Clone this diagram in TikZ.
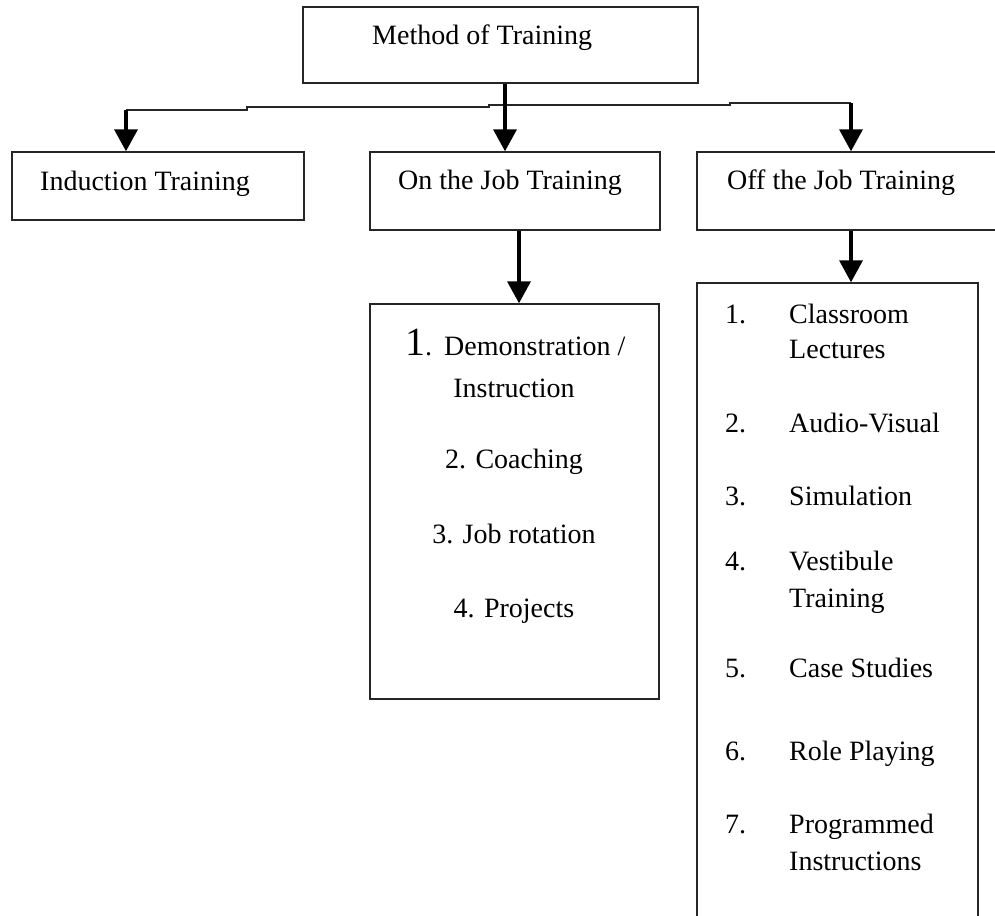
\documentclass[tikz,border=0pt]{standalone}
\usepackage{fontspec}
\setmainfont{Liberation Serif}
\usetikzlibrary{arrows.meta}
\begin{document}
\begin{tikzpicture}[x=1pt,y=-1pt,
  box/.style={draw=black!85, line width=1.4pt, inner sep=0pt, rectangle},
  lbl/.style={anchor=base west, inner sep=0pt, font=\fontsize{28}{30}\selectfont},
  clbl/.style={anchor=base, inner sep=0pt, font=\fontsize{28}{30}\selectfont},
  arr/.style={line width=3.6pt, -{Triangle[width=23pt,length=22pt]}},
  conn/.style={line width=1.5pt, black!85}]
\useasboundingbox (0,0) rectangle (995,915);

% boxes
\node[box, minimum width=395pt, minimum height=76pt] (method) at (500.5,45) {};
\node[box, minimum width=292pt, minimum height=68pt] (ind) at (158,186) {};
\node[box, minimum width=290pt, minimum height=78pt] (ojt) at (515,191) {};
\node[box, minimum width=300pt, minimum height=78pt] (off) at (847,191) {};
\node[box, minimum width=289pt, minimum height=395pt] (ojtl) at (514.5,501.5) {};
\node[box, minimum width=281pt, minimum height=650pt] (offl) at (837.5,608) {};

% box titles
\node[lbl] (tmethod) at (372,45) {Method of Training};
\node[lbl] (tind) at (40,190) {Induction Training};
\node[lbl] (tojt) at (398,189) {On the Job Training};
\node[lbl] (toff) at (727,189) {Off the Job Training};

% on the job list
\node[lbl] (o1) at (405,355) {{\fontsize{40}{40}\selectfont 1}.\hspace{12pt}Demonstration /};
\node[clbl] (o1b) at (514,397) {Instruction};
\node[clbl] (o2) at (514,468) {2. Coaching};
\node[clbl] (o3) at (514,543) {3. Job rotation};
\node[clbl] (o4) at (514,617) {4. Projects};

% off the job list
\node[lbl] (n1) at (725,323) {1.};
\node[lbl] (f1) at (789,323) {Classroom};
\node[lbl] (f1b) at (789,358) {Lectures};
\node[lbl] (n2) at (725,432) {2.};
\node[lbl] (f2) at (789,432) {Audio-Visual};
\node[lbl] (n3) at (725,505) {3.};
\node[lbl] (f3) at (789,505) {Simulation};
\node[lbl] (n4) at (725,570) {4.};
\node[lbl] (f4) at (789,570) {Vestibule};
\node[lbl] (f4b) at (789,607) {Training};
\node[lbl] (n5) at (725,677) {5.};
\node[lbl] (f5) at (789,677) {Case Studies};
\node[lbl] (n6) at (725,760) {6.};
\node[lbl] (f6) at (789,760) {Role Playing};
\node[lbl] (n7) at (725,833) {7.};
\node[lbl] (f7) at (789,833) {Programmed};
\node[lbl] (f7b) at (789,870) {Instructions};

% connector coordinates
\coordinate (jL) at (126,110);
\coordinate (s1) at (247,110);
\coordinate (s2) at (247,107);
\coordinate (s3) at (489,107);
\coordinate (s4) at (489,105);
\coordinate (s5) at (730,105);
\coordinate (s6) at (730,103);
\coordinate (jR) at (851,103);
\coordinate (tr) at (505,0);
\coordinate (c2) at (519,0);

\draw[conn] (jL) -- (s1) -- (s2) -- (s3) -- (s4) -- (s5) -- (s6) -- (jR);

\draw[arr] (jL) -- (ind.north -| jL);
\draw[arr] (method.south -| tr) -- (ojt.north -| tr);
\draw[arr] (jR) -- (off.north -| jR);
\draw[arr] (ojt.south -| c2) -- (ojtl.north -| c2);
\draw[arr] (off.south -| jR) -- (offl.north -| jR);
\end{tikzpicture}
\end{document}
